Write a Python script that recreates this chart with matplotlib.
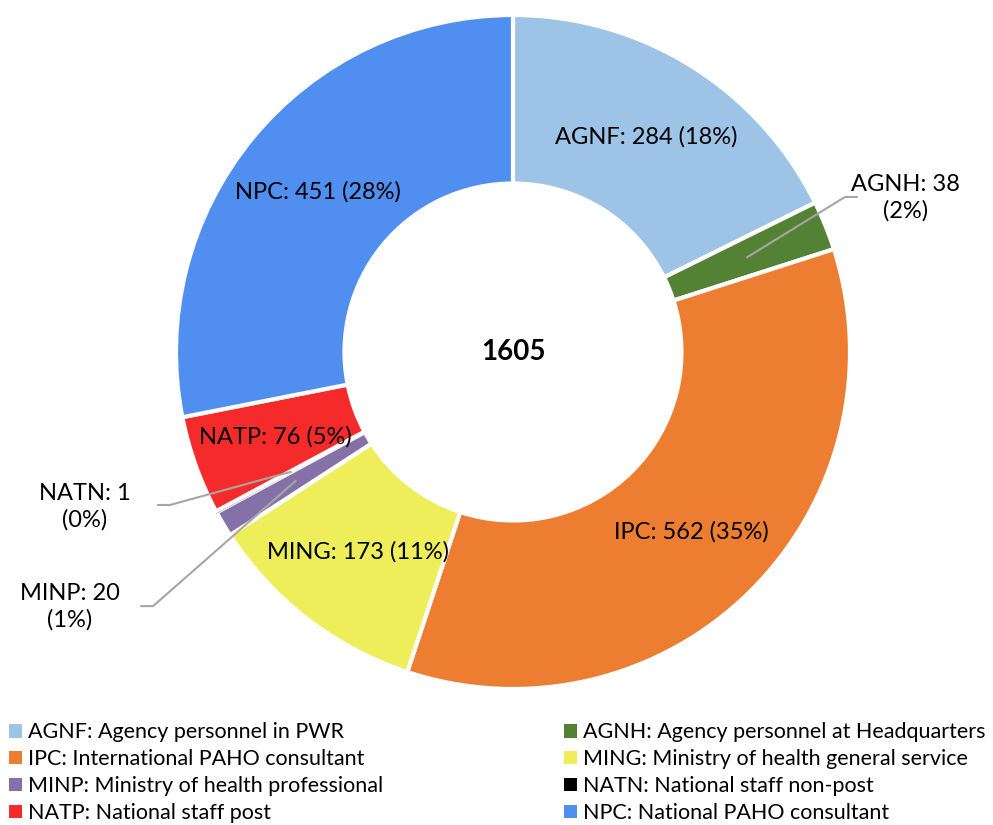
import numpy as np
import matplotlib.pyplot as plt
from matplotlib.patches import Patch

plt.rcParams['font.family'] = ['Lato', 'DejaVu Sans']

codes = ['AGNF', 'AGNH', 'IPC', 'MING', 'MINP', 'NATN', 'NATP', 'NPC']
values = [284, 38, 562, 173, 20, 1, 76, 451]
names = ['Agency personnel in PWR', 'Agency personnel at Headquarters',
         'International PAHO consultant', 'Ministry of health general service',
         'Ministry of health professional', 'National staff non-post',
         'National staff post', 'National PAHO consultant']
colors = ['#9DC3E6', '#548235', '#ED7D31', '#EEEE5A',
          '#8670A8', '#000000', '#F52A2A', '#508FF0']
outside = ['AGNH', 'NATN', 'MINP']

total = sum(values)

fig = plt.figure(figsize=(9.93, 8.25), dpi=100)
W, H = 993, 825
cx, cy, R = 513, 825 - 352, 337
ax = fig.add_axes([(cx - R) / W, (cy - R) / H, 2 * R / W, 2 * R / H])

wedges, _ = ax.pie(values, colors=colors, startangle=90, counterclock=False,
                   radius=1.0, wedgeprops=dict(width=0.5, edgecolor='white', linewidth=3))
# tiny NATN slice shows as a black line
wedges[5].set_edgecolor('black')
wedges[5].set_linewidth(1.2)
ax.set_xlim(-1, 1)
ax.set_ylim(-1, 1)
ax.set_aspect('equal')
ax.axis('off')

ax.text(0, 0, str(total), ha='center', va='center', fontsize=20, fontweight='bold')

# label positions for the outside labels (text centre, elbow)
ext = {'AGNH': ((1.165, 0.457), (0.985, 0.46), 1),
       'NATN': ((-1.27, -0.46), (-1.018, -0.454), -1),
       'MINP': ((-1.315, -0.757), (-1.068, -0.754), -1)}

for w, code, v in zip(wedges, codes, values):
    mid = np.deg2rad((w.theta1 + w.theta2) / 2)
    pct = round(100 * v / total)
    r = 0.75
    x, y = r * np.cos(mid), r * np.sin(mid)
    if code in outside:
        (tx, ty), (ex, ey), s = ext[code]
        ax.plot([x, ex, ex + s * 0.035], [y, ey, ey], color='#A6A6A6', lw=1.5, clip_on=False)
        ax.text(tx, ty, f'{code}: {v}\n({pct}%)', ha='center', va='center',
                fontsize=17, linespacing=1.3, clip_on=False)
    else:
        ax.text(x, y, f'{code}: {v} ({pct}%)', ha='center', va='center', fontsize=17)

handles = [Patch(facecolor=c, edgecolor='none') for c in colors]
labels = [f'{c}: {n}' for c, n in zip(codes, names)]
order = [0, 2, 4, 6, 1, 3, 5, 7]
fig.legend([handles[i] for i in order], [labels[i] for i in order],
           ncol=2, loc='lower left', bbox_to_anchor=(0.0, -0.008), frameon=False,
           fontsize=15.5, handlelength=0.6, handleheight=0.6, handletextpad=0.3,
           labelspacing=0.32, columnspacing=8.4, borderaxespad=0.0)

fig.savefig('out.png', dpi=100)
